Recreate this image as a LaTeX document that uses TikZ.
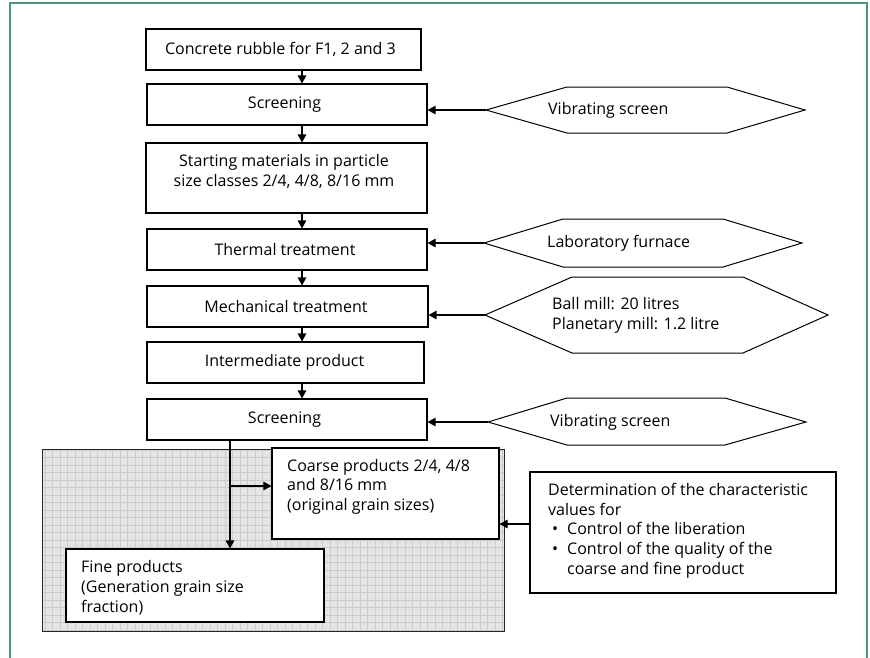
\documentclass[tikz,border=0pt]{standalone}
\usepackage{fontspec}
\setmainfont{Open Sans}
\usetikzlibrary{arrows.meta}
\definecolor{framec}{HTML}{4A967C}
\definecolor{shadec}{HTML}{E5E5E5}
\definecolor{gridc}{HTML}{CBCBCB}
\newcommand\mylines[2][l]{\begin{tabular}{@{}#1@{}}#2\end{tabular}}
\begin{document}
\begin{tikzpicture}[x=1pt,y=-1pt,
  font=\fontsize{16}{19.7}\selectfont,
  box/.style={draw, line width=1.1pt, fill=white, inner sep=0pt, minimum height=41pt},
  txt/.style={inner sep=0pt},
  hexa/.style={draw, line width=1pt},
  arr/.style={-{Triangle[length=8pt,width=8.5pt]}, line width=1.1pt}]
\useasboundingbox (0,0) rectangle (870,657);
\fill[white] (0,0) rectangle (870,657);
% frame
\draw[framec, line width=2pt] (10,660) -- (10,3) -- (867,3) -- (867,660);

% main column
\node[box, minimum width=275pt] (b1) at (283.5,49.5) {\hspace*{-6pt}Concrete rubble for F1, 2 and 3};
\node[box, minimum width=280pt] (b2) at (287,104.5) {\hspace*{-5pt}Screening};
\node[box, minimum width=281pt, minimum height=70pt] (b3) at (286.5,178) {};
\node[txt] (b3t) at (284,172.5) {\mylines[c]{Starting materials in particle\\size classes 2/4, 4/8, 8/16 mm}};
\node[box, minimum width=280pt] (b4) at (287,249.5) {\hspace*{-4pt}Thermal treatment};
\node[box, minimum width=281pt] (b5) at (287.5,306.5) {\hspace*{-3pt}Mechanical treatment};
\node[box, minimum width=277pt] (b6) at (285.5,362.5) {\hspace*{-2pt}Intermediate product};
\node[box, minimum width=280pt] (b7) at (287,419.5) {\hspace*{-5pt}Screening};

\coordinate (ax) at (302,0);
\draw[arr] (b1.south -| ax) -- (b2.north -| ax);
\draw[arr] (b2.south -| ax) -- (b3.north -| ax);
\draw[arr] (b3.south -| ax) -- (b4.north -| ax);
\draw[arr] (b4.south -| ax) -- (b5.north -| ax);
\draw[arr] (b5.south -| ax) -- (b6.north -| ax);
\draw[arr] (b6.south -| ax) -- (b7.north -| ax);

% hexagons
\draw[hexa] (486,110) -- (567,87) -- (727,87) -- (805,110) -- (727,133) -- (567,133) -- cycle;
\coordinate (h1tip) at (486,110);
\node[txt, anchor=west] (h1) at (548,110) {Vibrating screen};
\draw[arr] (h1tip) -- (h1tip -| b2.east);

\draw[hexa] (484,243) -- (563,219) -- (723,219) -- (802,243) -- (723,267) -- (563,267) -- cycle;
\coordinate (h2tip) at (484,243);
\node[txt, anchor=west] (h2) at (547,243) {Laboratory furnace};
\draw[arr] (h2tip) -- (h2tip -| b4.east);

\draw[hexa] (485,315) -- (572,277) -- (743,277) -- (828,315) -- (743,353) -- (572,353) -- cycle;
\coordinate (h3tip) at (485,315);
\node[txt, anchor=west] (h3) at (552,315.5) {\mylines{Ball mill: 20 litres\\Planetary mill: 1.2 litre}};
\draw[arr] (h3tip) -- (h3tip -| b5.east);

\draw[hexa] (488,422) -- (567,398) -- (725,398) -- (806,422) -- (725,445) -- (567,445) -- cycle;
\coordinate (h4tip) at (488,422);
\node[txt, anchor=west] (h4) at (550,422) {Vibrating screen};
\draw[arr] (h4tip) -- (h4tip -| b7.east);

% shaded product region
\fill[shadec] (42,449) rectangle (504,631);
\draw[gridc, line width=0.45pt, step=7.5pt] (42,449) grid (504,631);
\draw[line width=1pt, black!85] (42,449) rectangle (504,631);

\node[box, minimum width=227pt, minimum height=91pt] (coarse) at (385.5,493.5) {};
\node[txt, anchor=west] (coarset) at (287,487) {\mylines{Coarse products 2/4, 4/8\\and 8/16 mm\\(original grain sizes)}};
\node[box, minimum width=258pt, minimum height=73pt] (fine) at (195,585.5) {};
\node[txt, anchor=west] (finet) at (81,588.5) {\mylines{Fine products\\(Generation grain size\\fraction)}};

\coordinate (vx) at (230,0);
\draw[arr] (b7.south -| vx) -- (fine.north -| vx);
\coordinate (br) at (230,486);
\draw[arr] (br) -- (br -| coarse.west);

% determination box
\node[box, minimum width=306pt, minimum height=121pt] (det) at (683,532.5) {};
\node[txt, anchor=west] (dett) at (548,531) {\mylines{Determination of the characteristic\\values for\\\makebox[19pt][l]{\hspace*{4pt}\textbullet}Control of the liberation\\\makebox[19pt][l]{\hspace*{4pt}\textbullet}Control of the quality of the\\\hspace*{19pt}coarse and fine product}};
\coordinate (da) at (0,524);
\draw[arr] (det.west |- da) -- (coarse.east |- da);
\end{tikzpicture}
\end{document}
